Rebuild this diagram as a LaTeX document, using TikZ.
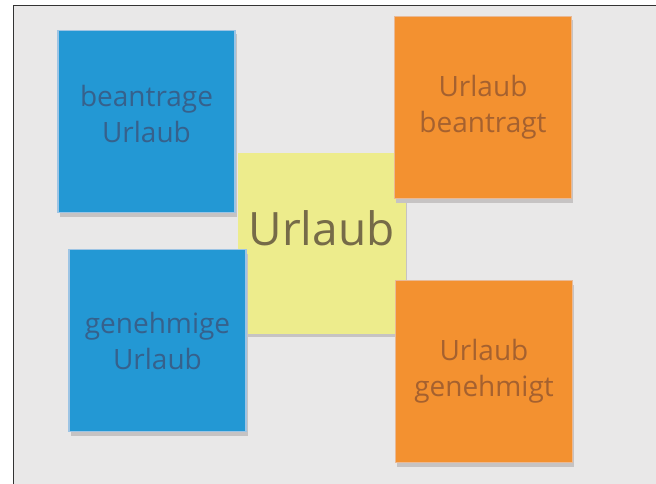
\documentclass[tikz,border=0pt]{standalone}
\usepackage{fontspec}
\setmainfont{Open Sans}
\usetikzlibrary{shadows}
\definecolor{wallgray}{HTML}{E9E8E8}
\definecolor{noteblue}{HTML}{2398D4}
\definecolor{noteblueedge}{HTML}{9DC4E4}
\definecolor{noteorange}{HTML}{F39130}
\definecolor{noteorangeedge}{HTML}{E9B995}
\definecolor{noteyellow}{HTML}{EDEC8C}
\definecolor{shadowgray}{HTML}{C6C3C3}
\definecolor{inkblue}{HTML}{36618C}
\definecolor{inkorange}{HTML}{A5612F}
\definecolor{inkyellow}{HTML}{766B48}
\begin{document}
\begin{tikzpicture}[
			x=1pt, y=-1pt,
			note/.style={rectangle, inner sep=0pt, align=center,
					minimum width=177pt, minimum height=182pt,
					drop shadow={shadow xshift=1.5pt, shadow yshift=-4pt, fill=shadowgray, opacity=1},
					font=\fontsize{28}{36}\selectfont},
			task/.style={note, fill=noteblue, draw=noteblueedge, line width=1.5pt, text=inkblue},
			event/.style={note, fill=noteorange, draw=noteorangeedge, line width=1pt, text=inkorange},
			topic/.style={note, fill=noteyellow, draw=noteyellow, text=inkyellow,
					minimum width=167pt, minimum height=180pt, font=\fontsize{46}{50}\selectfont}
		]
		\useasboundingbox (0,0) rectangle (656,484);
		\fill[white] (0,0) rectangle (656,484);
		\fill[wallgray] (13,6) rectangle (656,484);
		\draw[black!80, line width=1pt] (13,484) -- (13,6) -- (656,6);

		\node[topic, text depth=30pt] (urlaub) at (321.5,243) {Urlaub};

		\node[task, text depth=16pt] (beantrage) at (146.5,121.5) {beantrage\\Urlaub};
		\node[task] (genehmige) at (157.5,340.5) {genehmige\\Urlaub};

		\node[event] (beantragt) at (483,107.5) {Urlaub\\beantragt};
		\node[event] (genehmigt) at (484,371.5) {Urlaub\\genehmigt};
	\end{tikzpicture}
\end{document}
